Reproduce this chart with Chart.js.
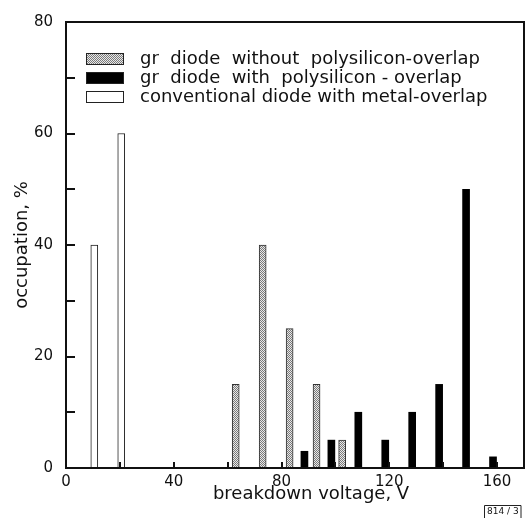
<!DOCTYPE html>
<html>
<head>
<meta charset="utf-8">
<script src="https://cdn.jsdelivr.net/npm/chart.js"></script>
<style>
  html, body { margin: 0; padding: 0; background: #fff; }
  #wrap { width: 526px; height: 520px; }
</style>
</head>
<body>
<div id="wrap"><canvas id="myChart" width="526" height="520"></canvas></div>
<script>
// series labels (legend order)
var seriesLabels = [
	'gr  diode  without  polysilicon-overlap',
	'gr  diode  with  polysilicon - overlap',
	'conventional diode with metal-overlap'
];

// breakdown voltage (V) / occupation (%)
var noPolyV = [63, 73, 83, 93, 102.5];
var noPolyOcc = [15, 40, 25, 15, 5];

var polyV = [88.5, 98.5, 108.5, 118.5, 128.5, 138.5, 148.5, 158.5];
var polyOcc = [3, 5, 10, 5, 10, 15, 50, 2];

var metalV = [10.5, 20.5];
var metalOcc = [40, 60];

var xMin = 0, xMax = 170, xStep = 20, xLabelStep = 40;
var yMin = 0, yMax = 80, yStep = 10, yLabelStep = 20;
var xTitle = 'breakdown voltage, V';

function pairs(xs, ys) {
	return xs.map(function (x, i) { return { x: x, y: ys[i] }; });
}

var ctx = document.getElementById('myChart');
var c2d = ctx.getContext('2d');

// dotted grey fill like the screened bars of the original
var pc = document.createElement('canvas');
pc.width = 2; pc.height = 2;
var pg = pc.getContext('2d');
pg.fillStyle = '#e8e8e8'; pg.fillRect(0, 0, 2, 2);
pg.fillStyle = '#7a7a7a'; pg.fillRect(0, 0, 1, 1); pg.fillRect(1, 1, 1, 1);
var greyPattern = c2d.createPattern(pc, 'repeat');

// frame + inward tick marks
var framePlugin = {
	id: 'frame',
	afterDraw: function (chart) {
		var a = chart.chartArea, g = chart.ctx;
		var xs = chart.scales.x, ys = chart.scales.y;
		g.save();
		g.strokeStyle = '#111';
		g.lineWidth = 2;
		g.strokeRect(a.left, a.top, a.right - a.left, a.bottom - a.top);
		g.beginPath();
		ys.ticks.forEach(function (t) {
			if (t.value <= yMin || t.value >= yMax) return;
			var p = Math.round(ys.getPixelForValue(t.value));
			g.moveTo(a.left, p); g.lineTo(a.left + 9, p);
		});
		xs.ticks.forEach(function (t) {
			if (t.value <= xMin || t.value % xStep !== 0) return;
			var p = Math.round(xs.getPixelForValue(t.value));
			g.moveTo(p, a.bottom); g.lineTo(p, a.bottom - 6);
		});
		g.stroke();
		// x axis title, sits a little right of centre in the original
		g.fillStyle = '#111';
		g.font = '18px "DejaVu Sans"';
		g.textAlign = 'center';
		g.textBaseline = 'middle';
		g.fillText(xTitle, a.left + (a.right - a.left) * 0.535, 494);
		g.restore();
	}
};

// legend drawn inside the plot, like the original
var legendPlugin = {
	id: 'insideLegend',
	afterDraw: function (chart) {
		var a = chart.chartArea, g = chart.ctx;
		var x0 = a.left + 20, y0 = a.top + 37, row = 19;
		g.save();
		g.font = '18px "DejaVu Sans"';
		g.textBaseline = 'middle';
		chart.data.datasets.forEach(function (ds, i) {
			var y = y0 + i * row;
			g.fillStyle = ds.backgroundColor;
			g.fillRect(x0, y - 6, 38, 12);
			g.strokeStyle = '#222';
			g.lineWidth = 1;
			g.strokeRect(x0 + 0.5, y - 5.5, 37, 11);
			g.fillStyle = '#111';
			g.fillText(ds.label, x0 + 54, y);
		});
		g.restore();
	}
};

// small figure number box at the bottom right
var stampPlugin = {
	id: 'stamp',
	afterDraw: function (chart) {
		var g = chart.ctx;
		g.save();
		g.strokeStyle = '#222';
		g.lineWidth = 1;
		g.beginPath();
		g.moveTo(484.5, 518); g.lineTo(484.5, 505.5); g.lineTo(521, 505.5); g.lineTo(521, 518);
		g.stroke();
		g.fillStyle = '#111';
		g.font = '9px "DejaVu Sans"';
		g.textBaseline = 'middle';
		g.fillText('814 / 3', 487, 512);
		g.restore();
	}
};

Chart.defaults.font.family = '"DejaVu Sans"';
Chart.defaults.font.size = 15;
Chart.defaults.color = '#111';

var myChart = new Chart(ctx, {
	type : 'bar',
	data : {
		datasets : [ {
			label : seriesLabels[0],
			data : pairs(noPolyV, noPolyOcc),
			backgroundColor : greyPattern,
			borderColor : '#333',
			borderWidth : 1
		}, {
			label : seriesLabels[1],
			data : pairs(polyV, polyOcc),
			backgroundColor : '#000',
			borderColor : '#000',
			borderWidth : 0
		}, {
			label : seriesLabels[2],
			data : pairs(metalV, metalOcc),
			backgroundColor : '#fff',
			borderColor : '#222',
			borderWidth : 1
		} ]
	},
	options : {
		responsive : false,
		animation : false,
		grouped : false,
		barThickness : 7,
		layout : { padding : { top : 19, right : 2, left : 0, bottom : 0 } },
		plugins : {
			legend : { display : false },
			tooltip : { enabled : false }
		},
		scales : {
			x : {
				type : 'linear',
				offset : false,
				min : xMin,
				max : xMax,
				grid : { display : false, drawTicks : false },
				border : { display : false },
				ticks : {
					stepSize : xStep,
					includeBounds : false,
					autoSkip : false,
					maxRotation : 0,
					padding : 5,
					callback : function (v) { return v % xLabelStep === 0 ? v : ''; }
				},
				afterFit : function (s) { s.height = 52; }
			},
			y : {
				min : yMin,
				max : yMax,
				grid : { display : false, drawTicks : false },
				border : { display : false },
				ticks : {
					stepSize : yStep,
					autoSkip : false,
					padding : 13,
					callback : function (v) { return v % yLabelStep === 0 ? v : ''; }
				},
				title : {
					display : true,
					text : 'occupation, %',
					font : { size : 18 },
					padding : { top : 12, bottom : 0 }
				},
				afterFit : function (s) { s.width = 66; }
			}
		}
	},
	plugins : [ framePlugin, legendPlugin, stampPlugin ]
});
</script>
</body>
</html>
